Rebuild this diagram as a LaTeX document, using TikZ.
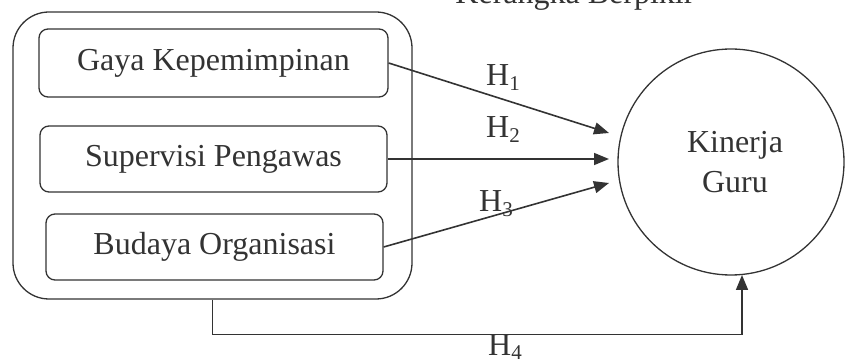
\documentclass[tikz,border=0pt]{standalone}
\usepackage{fontspec}
\setmainfont{Liberation Serif}
\usetikzlibrary{arrows.meta}
\definecolor{ink}{HTML}{333333}
\newcommand\hsub[1]{\raisebox{-5pt}{\fontsize{21}{21}\selectfont #1}}
\tikzset{
  box/.style={draw=ink, line width=1.3pt, rounded corners=9pt, inner sep=0pt, text=ink},
  outerbox/.style={draw=ink, line width=1.3pt, rounded corners=36pt, inner sep=0pt},
  conn/.style={draw=ink, line width=1.6pt, -{Triangle[length=15pt,width=12pt]}},
  lbl/.style={text=ink, anchor=base, inner sep=0pt},
}
\begin{document}
\begin{tikzpicture}[x=1pt,y=-1pt, font=\fontsize{32}{40}\selectfont]
\useasboundingbox (0,0) rectangle (846,363);
\clip (0,0) rectangle (846,363);
% title (cut off at top)
\node[lbl] (title) at (575,4) {Kerangka Berpikir};
% outer group
\node[outerbox, minimum width=399pt, minimum height=287pt] (outer) at (212.5,155.5) {};
% inner boxes
\node[box, minimum width=349pt, minimum height=68pt] (g1) at (213.5,63) {Gaya Kepemimpinan};
\node[box, minimum width=347pt, minimum height=66pt] (g2) at (213.5,159) {Supervisi Pengawas};
\node[box, minimum width=337pt, minimum height=66pt] (g3) at (214.5,247) {Budaya Organisasi};
% target
\node[draw=ink, line width=1.3pt, circle, minimum size=226pt, inner sep=0pt, align=center, text=ink] (k) at (731,162) {\hspace*{8pt}Kinerja\\\hspace*{8pt}Guru};
% arrow end points
\coordinate (e1) at (609,133);
\coordinate (e2) at (609,159);
\coordinate (e3) at (609,183);
\coordinate (h4end) at (742,275);
\draw[conn] (g1.east) -- (e1);
\draw[conn] (g2.east) -- (e2);
\draw[conn] (g3.east) -- (e3);
\draw[conn] (outer.south) -- ++(0,35) -| (h4end);
% labels
\node[lbl] (h1) at (503,86) {H\hsub{1}};
\node[lbl] (h2) at (503,138) {H\hsub{2}};
\node[lbl] (h3) at (496,212) {H\hsub{3}};
\node[lbl] (h4) at (505,355) {H\hsub{4}};
\end{tikzpicture}
\end{document}
